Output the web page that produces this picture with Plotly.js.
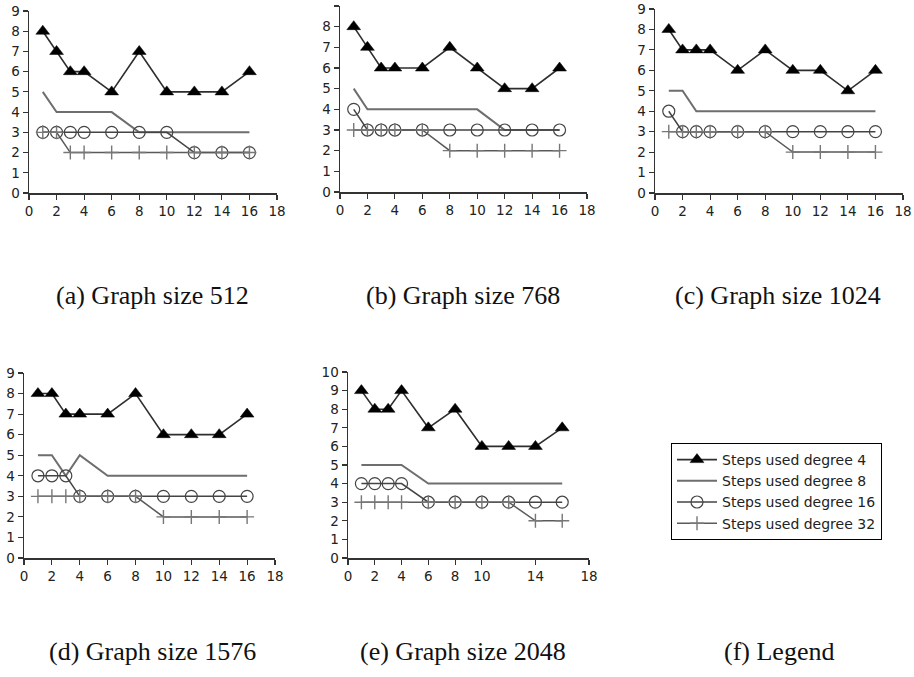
<!DOCTYPE html>
<html>
<head>
<meta charset="utf-8">
<script src="https://cdn.plot.ly/plotly-3.0.1.min.js"></script>
<style>html,body{margin:0;padding:0;background:#fff;}#chart{width:914px;height:677px;}</style>
</head>
<body>
<div id="chart"></div>
<script>
// x values (shared by all panels)
const xs = [1, 2, 3, 4, 6, 8, 10, 12, 14, 16];

// series names
const seriesNames = ["Steps used degree 4", "Steps used degree 8", "Steps used degree 16", "Steps used degree 32"];

// panel captions
const captions = ["(a) Graph size 512", "(b) Graph size 768", "(c) Graph size 1024", "(d) Graph size 1576", "(e) Graph size 2048", "(f) Legend"];

// Graph size 512
const deg4_512  = [8, 7, 6, 6, 5, 7, 5, 5, 5, 6];
const deg8_512  = [5, 4, 4, 4, 4, 3, 3, 3, 3, 3];
const deg16_512 = [3, 3, 3, 3, 3, 3, 3, 2, 2, 2];
const deg32_512 = [3, 3, 2, 2, 2, 2, 2, 2, 2, 2];

// Graph size 768
const deg4_768  = [8, 7, 6, 6, 6, 7, 6, 5, 5, 6];
const deg8_768  = [5, 4, 4, 4, 4, 4, 4, 3, 3, 3];
const deg16_768 = [4, 3, 3, 3, 3, 3, 3, 3, 3, 3];
const deg32_768 = [3, 3, 3, 3, 3, 2, 2, 2, 2, 2];

// Graph size 1024
const deg4_1024  = [8, 7, 7, 7, 6, 7, 6, 6, 5, 6];
const deg8_1024  = [5, 5, 4, 4, 4, 4, 4, 4, 4, 4];
const deg16_1024 = [4, 3, 3, 3, 3, 3, 3, 3, 3, 3];
const deg32_1024 = [3, 3, 3, 3, 3, 3, 2, 2, 2, 2];

// Graph size 1576
const deg4_1576  = [8, 8, 7, 7, 7, 8, 6, 6, 6, 7];
const deg8_1576  = [5, 5, 4, 5, 4, 4, 4, 4, 4, 4];
const deg16_1576 = [4, 4, 4, 3, 3, 3, 3, 3, 3, 3];
const deg32_1576 = [3, 3, 3, 3, 3, 3, 2, 2, 2, 2];

// Graph size 2048
const deg4_2048  = [9, 8, 8, 9, 7, 8, 6, 6, 6, 7];
const deg8_2048  = [5, 5, 5, 5, 4, 4, 4, 4, 4, 4];
const deg16_2048 = [4, 4, 4, 4, 3, 3, 3, 3, 3, 3];
const deg32_2048 = [3, 3, 3, 3, 3, 3, 3, 3, 2, 2];

// tick labels
const xTicks = [0, 2, 4, 6, 8, 10, 12, 14, 16, 18];
const xTicksE = [0, 2, 4, 6, 8, 10, 14, 18];
const yTicks9 = [0, 1, 2, 3, 4, 5, 6, 7, 8, 9];
const yTicks10 = [0, 1, 2, 3, 4, 5, 6, 7, 8, 9, 10];

const panels = [
  {series: [deg4_512, deg8_512, deg16_512, deg32_512], xt: xTicks, yt: yTicks9},
  {series: [deg4_768, deg8_768, deg16_768, deg32_768], xt: xTicks, yt: yTicks9},
  {series: [deg4_1024, deg8_1024, deg16_1024, deg32_1024], xt: xTicks, yt: yTicks9},
  {series: [deg4_1576, deg8_1576, deg16_1576, deg32_1576], xt: xTicks, yt: yTicks9},
  {series: [deg4_2048, deg8_2048, deg16_2048, deg32_2048], xt: xTicksE, yt: yTicks10}
];

const W = 914, H = 677;
// pixel boxes [left, right, top, bottom]
const boxes = [
  [29, 277, 11, 193],
  [340, 587, 6, 192],
  [655, 903, 9, 193],
  [24, 275, 373, 558],
  [348, 589, 372, 558]
];

const styles = [
  {mode: "lines+markers", line: {color: "#2e2e2e", width: 1.6},
   marker: {symbol: "triangle-up", size: 12, color: "#000", line: {color: "#000", width: 0.5}}},
  {mode: "lines", line: {color: "#6e6e6e", width: 2}},
  {mode: "lines+markers", line: {color: "#444", width: 1.5},
   marker: {symbol: "circle-open", size: 12, color: "#444", line: {color: "#444", width: 1.2}}},
  {mode: "lines+markers", line: {color: "#5a5a5a", width: 1.5},
   marker: {symbol: "cross-thin-open", size: 10, color: "#777", line: {color: "#777", width: 1.4}}}
];

const traces = [];
const layout = {
  width: W, height: H,
  margin: {l: 0, r: 0, t: 0, b: 0},
  paper_bgcolor: "#fff", plot_bgcolor: "#fff",
  showlegend: true,
  legend: {
    x: 671 / W, y: 1 - 443 / H, xanchor: "left", yanchor: "top",
    bordercolor: "#000", borderwidth: 1, bgcolor: "#fff",
    font: {family: "DejaVu Sans", size: 14, color: "#222"},
    tracegroupgap: 0, itemwidth: 40
  },
  annotations: []
};

const tickFont = {family: "DejaVu Sans", size: 13.5, color: "#222"};

panels.forEach((p, i) => {
  const n = i + 1;
  const b = boxes[i];
  const xa = n === 1 ? "xaxis" : "xaxis" + n;
  const ya = n === 1 ? "yaxis" : "yaxis" + n;
  const yr = p.yt[p.yt.length - 1];
  layout[xa] = {
    domain: [b[0] / W, b[1] / W], anchor: n === 1 ? "y" : "y" + n,
    range: [0, 18], tickmode: "array", tickvals: p.xt,
    showline: true, linecolor: "#333", linewidth: 1.5,
    ticks: "outside", ticklen: 5, tickcolor: "#333", tickwidth: 1.2,
    showgrid: false, zeroline: false, tickfont: tickFont, fixedrange: true
  };
  layout[ya] = {
    domain: [1 - b[3] / H, 1 - b[2] / H], anchor: n === 1 ? "x" : "x" + n,
    range: [0, yr], tickmode: "array", tickvals: p.yt,
    showline: true, linecolor: "#333", linewidth: 1.5,
    ticks: "outside", ticklen: 5, tickcolor: "#333", tickwidth: 1.2,
    showgrid: false, zeroline: false, tickfont: tickFont, fixedrange: true
  };
  p.series.forEach((ys, k) => {
    const s = styles[k];
    const t = {
      type: "scatter", x: xs, y: ys, name: seriesNames[k],
      xaxis: n === 1 ? "x" : "x" + n, yaxis: n === 1 ? "y" : "y" + n,
      mode: s.mode, line: s.line, showlegend: i === 0, cliponaxis: false,
      legendgroup: "g" + k
    };
    if (s.marker) t.marker = s.marker;
    traces.push(t);
  });
});

const capPos = [[152, 295], [463, 295], [778, 295], [152, 651], [463, 651], [779, 651]];
captions.forEach((c, i) => {
  layout.annotations.push({
    text: c, xref: "paper", yref: "paper",
    x: capPos[i][0] / W, y: 1 - capPos[i][1] / H,
    xanchor: "center", yanchor: "middle", showarrow: false,
    font: {family: "Liberation Serif", size: 26, color: "#111"}
  });
});

Plotly.newPlot("chart", traces, layout, {displayModeBar: false, staticPlot: true});
</script>
</body>
</html>
